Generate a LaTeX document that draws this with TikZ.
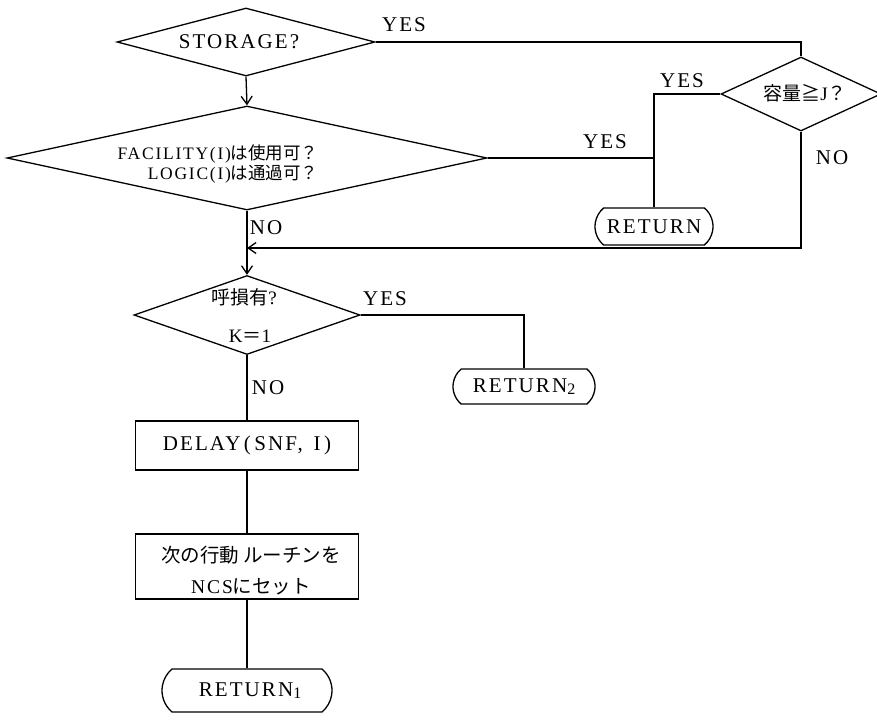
\documentclass[tikz,border=0pt]{standalone}
\usepackage{fontspec}
\setmainfont{Liberation Serif}[LetterSpace=10]
\newfontfamily\cjk{Noto Sans CJK JP}
\usetikzlibrary{shapes.geometric,shapes.misc,arrows.meta}
\tikzset{
  every node/.style={font=\fontsize{21}{24}\selectfont},
  dia/.style={diamond, draw, inner sep=0pt, line width=1.3pt},
  term/.style={rounded rectangle, rounded rectangle arc length=100, draw, inner sep=0pt, line width=1.3pt},
  procbox/.style={rectangle, draw, inner sep=0pt, line width=1.3pt},
  lab/.style={inner sep=0pt},
  txt/.style={inner sep=0pt},
  arr/.style={-{Straight Barb[length=8pt,width=11pt]}},
  conn/.style={line width=1.3pt}
}
\begin{document}
\begin{tikzpicture}[x=1pt,y=-1pt]
\useasboundingbox (0,0) rectangle (877,720);
% decisions
\node[dia, minimum width=258pt, minimum height=68pt] (sto) at (246,42) {};
\node[txt] (stoT) at (239,42) {STORAGE?};
\node[dia, minimum width=480pt, minimum height=104pt] (fac) at (247,158) {};
\node[txt, align=right, font=\fontsize{17.5}{20}\selectfont] (facT) at (218,164) {FACILITY(I){\cjk は使用可？}\\LOGIC(I){\cjk は通過可？}};
\node[dia, minimum width=160pt, minimum height=74pt] (cap) at (801,94) {};
\node[txt, font=\fontsize{19}{22}\selectfont] (capT) at (805,93) {{\cjk 容量≧}J{\cjk ？}};
\node[dia, minimum width=226pt, minimum height=79pt] (call) at (247,315) {};
\node[txt, font=\fontsize{19}{22}\selectfont] (callA) at (244,297) {{\cjk 呼損有}?};
\node[txt, font=\fontsize{19}{22}\selectfont] (callB) at (250,336) {K{\cjk ＝}1};
% processes
\node[procbox, minimum width=223pt, minimum height=49pt] (delay) at (247,445.5) {DELAY\,(\,SNF,\ \,I\,)};
\node[procbox, minimum width=223pt, minimum height=65pt] (set) at (247,566.5) {};
\node[txt, align=center, font=\fontsize{19.5}{31}\selectfont] (setT) at (251,571) {{\cjk 次の行動 ルーチンを}\\NCS{\cjk にセット}};
% terminals
\node[term, minimum width=118pt, minimum height=37pt] (ret) at (654,226.5) {RETURN};
\node[term, minimum width=142pt, minimum height=35pt] (ret2) at (524,386.5) {RETURN{\fontsize{16}{16}\selectfont\raisebox{-1.5pt}{2}}};
\node[term, minimum width=170pt, minimum height=43pt] (ret1) at (247,690.5) {\hspace{6pt}RETURN{\fontsize{16}{16}\selectfont\raisebox{-1.5pt}{1}}};
% coordinates
\coordinate (j1) at (ret.north |- cap.west);
\coordinate (m1) at (247,248);
% connectors
\draw[conn, arr] (sto.south) -- (fac.north);
\draw[conn] (sto.east) -- (cap.north |- sto.east) -- (cap.north);
\draw[conn] (cap.west) -- (j1) -- (ret.north);
\draw[conn] (fac.east) -- (ret.north |- fac.east);
\draw[conn, arr] (cap.south) |- (m1);
\draw[conn, arr] (fac.south) -- (call.north);
\draw[conn] (call.east) -| (ret2.north);
\draw[conn] (call.south) -- (delay.north);
\draw[conn] (delay.south) -- (set.north);
\draw[conn] (set.south) -- (ret1.north);
% labels
\node[lab] (y1) at (404,25) {YES};
\node[lab] (y2) at (682,81) {YES};
\node[lab] (y3) at (605,142) {YES};
\node[lab] (n1) at (832,158) {NO};
\node[lab] (n2) at (266,228) {NO};
\node[lab] (y4) at (385,299) {YES};
\node[lab] (n3) at (268,388) {NO};
\end{tikzpicture}
\end{document}
